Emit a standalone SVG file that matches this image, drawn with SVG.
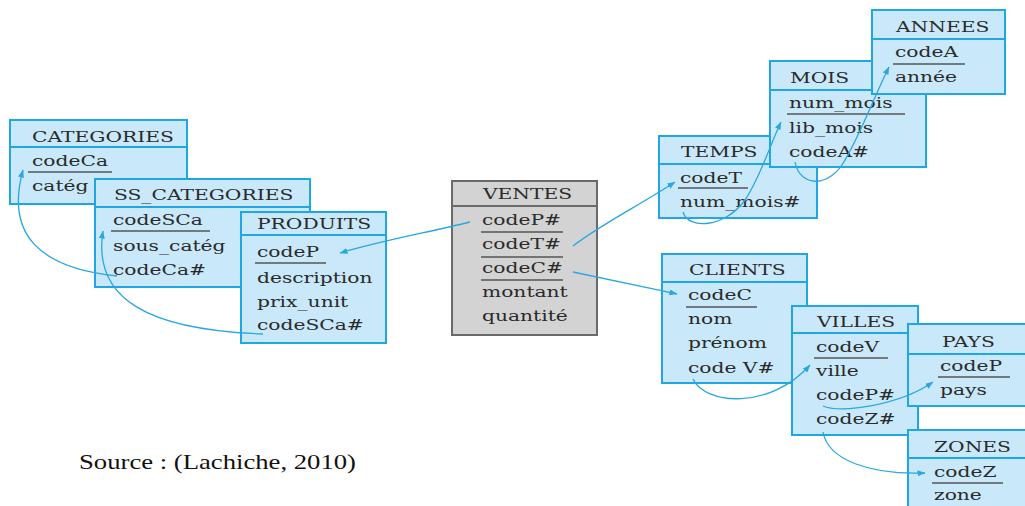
<svg xmlns="http://www.w3.org/2000/svg" width="1025" height="506" viewBox="0 0 1025 506">
  <style>
    .box { fill: #c9e9fa; stroke: #1fa6e3; stroke-width: 2; }
    .grey { fill: #d3d3d3; stroke: #6a6a6a; stroke-width: 2; }
    .sep { stroke: #1fa6e3; stroke-width: 2; }
    .sepg { stroke: #6a6a6a; stroke-width: 2; }
    .ul { stroke: #555; stroke-width: 1.6; }
    .t { font-family: "DejaVu Serif", "Liberation Serif", serif; font-size: 15px; fill: #2a2a2a; }
    .link { fill: none; stroke: #2aa7e0; stroke-width: 1.3; marker-end: url(#arrow); }
    .src { font-family: "Liberation Serif", "Times New Roman", serif; font-size: 21px; fill: #111; }
  </style>
  <defs>
    <marker id="arrow" markerWidth="8" markerHeight="6" refX="7.5" refY="3" orient="auto" markerUnits="userSpaceOnUse">
      <path d="M0,0 L8,3 L0,6 z" fill="#2aa7e0"/>
    </marker>
  </defs>
  <rect width="1025" height="506" fill="#ffffff"/>

  <!-- Produit hierarchy -->
  <g id="categories">
    <rect class="box" x="10" y="120" width="177" height="84"/>
    <line class="sep" x1="10" y1="147" x2="187" y2="147"/>
    <text class="t" transform="matrix(1.35 0 0 1 32 142)">CATEGORIES</text>
    <text class="t" transform="matrix(1.35 0 0 1 32 166)">codeCa</text>
    <line class="ul" x1="28" y1="172" x2="112" y2="172"/>
    <text class="t" transform="matrix(1.35 0 0 1 32 191)">catég</text>
  </g>
  <g id="ss_categories">
    <rect class="box" x="95" y="179" width="215" height="108"/>
    <line class="sep" x1="95" y1="207" x2="310" y2="207"/>
    <text class="t" transform="matrix(1.35 0 0 1 114 200)">SS_CATEGORIES</text>
    <text class="t" transform="matrix(1.35 0 0 1 113 225)">codeSCa</text>
    <line class="ul" x1="111" y1="231" x2="210" y2="231"/>
    <text class="t" transform="matrix(1.35 0 0 1 113 251)">sous_catég</text>
    <text class="t" transform="matrix(1.35 0 0 1 113 275)">codeCa#</text>
  </g>
  <g id="produits">
    <rect class="box" x="241" y="212" width="145" height="131"/>
    <line class="sep" x1="241" y1="235" x2="386" y2="235"/>
    <text class="t" transform="matrix(1.35 0 0 1 257 229)">PRODUITS</text>
    <text class="t" transform="matrix(1.35 0 0 1 257 257)">codeP</text>
    <line class="ul" x1="255" y1="263" x2="326" y2="263"/>
    <text class="t" transform="matrix(1.35 0 0 1 257 283)">description</text>
    <text class="t" transform="matrix(1.35 0 0 1 257 307)">prix_unit</text>
    <text class="t" transform="matrix(1.35 0 0 1 257 330)">codeSCa#</text>
  </g>

  <!-- Fact table -->
  <g id="ventes">
    <rect class="grey" x="452" y="181" width="145" height="154"/>
    <line class="sepg" x1="452" y1="206" x2="597" y2="206"/>
    <text class="t" transform="matrix(1.35 0 0 1 483 199)">VENTES</text>
    <text class="t" transform="matrix(1.35 0 0 1 482 225)">codeP#</text>
    <line class="ul" x1="481" y1="232" x2="563" y2="232"/>
    <text class="t" transform="matrix(1.35 0 0 1 482 249)">codeT#</text>
    <line class="ul" x1="481" y1="257" x2="563" y2="257"/>
    <text class="t" transform="matrix(1.35 0 0 1 482 273)">codeC#</text>
    <line class="ul" x1="481" y1="280" x2="563" y2="280"/>
    <text class="t" transform="matrix(1.35 0 0 1 482 297)">montant</text>
    <text class="t" transform="matrix(1.35 0 0 1 482 321)">quantité</text>
  </g>

  <!-- Time hierarchy -->
  <g id="temps">
    <rect class="box" x="659" y="136" width="158" height="82"/>
    <line class="sep" x1="659" y1="164" x2="817" y2="164"/>
    <text class="t" transform="matrix(1.35 0 0 1 681 157)">TEMPS</text>
    <text class="t" transform="matrix(1.35 0 0 1 680 183)">codeT</text>
    <line class="ul" x1="678" y1="188" x2="748" y2="188"/>
    <text class="t" transform="matrix(1.35 0 0 1 680 207)">num_mois#</text>
  </g>
  <g id="mois">
    <rect class="box" x="770" y="61" width="156" height="106"/>
    <line class="sep" x1="770" y1="90" x2="926" y2="90"/>
    <text class="t" transform="matrix(1.35 0 0 1 790 83)">MOIS</text>
    <text class="t" transform="matrix(1.35 0 0 1 789 108)">num_mois</text>
    <line class="ul" x1="787" y1="114" x2="905" y2="114" stroke="#111"/>
    <text class="t" transform="matrix(1.35 0 0 1 789 133)">lib_mois</text>
    <text class="t" transform="matrix(1.35 0 0 1 789 157)">codeA#</text>
  </g>
  <g id="annees">
    <rect class="box" x="872" y="10" width="133" height="84"/>
    <line class="sep" x1="872" y1="39" x2="1005" y2="39"/>
    <text class="t" transform="matrix(1.35 0 0 1 896 32)">ANNEES</text>
    <text class="t" transform="matrix(1.35 0 0 1 895 57)">codeA</text>
    <line class="ul" x1="893" y1="64" x2="965" y2="64"/>
    <text class="t" transform="matrix(1.35 0 0 1 895 82)">année</text>
  </g>

  <!-- Client hierarchy -->
  <g id="clients">
    <rect class="box" x="662" y="254" width="145" height="129"/>
    <line class="sep" x1="662" y1="282" x2="807" y2="282"/>
    <text class="t" transform="matrix(1.35 0 0 1 689 275)">CLIENTS</text>
    <text class="t" transform="matrix(1.35 0 0 1 688 300)">codeC</text>
    <line class="ul" x1="686" y1="307" x2="757" y2="307"/>
    <text class="t" transform="matrix(1.35 0 0 1 688 324)">nom</text>
    <text class="t" transform="matrix(1.35 0 0 1 688 348)">prénom</text>
    <text class="t" transform="matrix(1.35 0 0 1 688 373)">code V#</text>
  </g>
  <g id="villes">
    <rect class="box" x="792" y="306" width="126" height="129"/>
    <line class="sep" x1="792" y1="333" x2="918" y2="333"/>
    <text class="t" transform="matrix(1.35 0 0 1 817 327)">VILLES</text>
    <text class="t" transform="matrix(1.35 0 0 1 816 352)">codeV</text>
    <line class="ul" x1="814" y1="358" x2="888" y2="358"/>
    <text class="t" transform="matrix(1.35 0 0 1 816 376)">ville</text>
    <text class="t" transform="matrix(1.35 0 0 1 816 400)">codeP#</text>
    <text class="t" transform="matrix(1.35 0 0 1 816 424)">codeZ#</text>
  </g>
  <g id="pays">
    <rect class="box" x="908" y="324" width="130" height="82"/>
    <line class="sep" x1="908" y1="354" x2="1025" y2="354"/>
    <text class="t" transform="matrix(1.35 0 0 1 942 347)">PAYS</text>
    <text class="t" transform="matrix(1.35 0 0 1 940 371)">codeP</text>
    <line class="ul" x1="938" y1="377" x2="1010" y2="377"/>
    <text class="t" transform="matrix(1.35 0 0 1 940 395)">pays</text>
  </g>
  <g id="zones">
    <rect class="box" x="908" y="430" width="130" height="90"/>
    <line class="sep" x1="908" y1="458" x2="1025" y2="458"/>
    <text class="t" transform="matrix(1.35 0 0 1 934 452)">ZONES</text>
    <text class="t" transform="matrix(1.35 0 0 1 934 477)">codeZ</text>
    <line class="ul" x1="932" y1="483" x2="1003" y2="483"/>
    <text class="t" transform="matrix(1.35 0 0 1 934 500)">zone</text>
  </g>

  <!-- Foreign-key references -->
  <g id="connectors">
    <path class="link" d="M117,276 C40,268 5,235 23,170"/>
    <path class="link" d="M263,334 C150,330 92,300 103,231"/>
    <path class="link" d="M470,222 C430,232 380,241 340,253"/>
    <path class="link" d="M573,246 C600,225 640,205 675,182"/>
    <path class="link" d="M573,272 C600,278 640,286 677,294"/>
    <path class="link" d="M683,212 C688,230 725,228 745,200 C760,178 770,145 781,122"/>
    <path class="link" d="M795,162 C800,188 830,188 845,160 C860,135 875,95 889,67"/>
    <path class="link" d="M693,379 C705,405 770,410 810,365"/>
    <path class="link" d="M823,406 C840,414 900,405 933,382"/>
    <path class="link" d="M823,432 C828,460 870,475 925,473"/>
  </g>

  <text class="src" x="79" y="469" textLength="277" lengthAdjust="spacingAndGlyphs">Source : (Lachiche, 2010)</text>
</svg>
